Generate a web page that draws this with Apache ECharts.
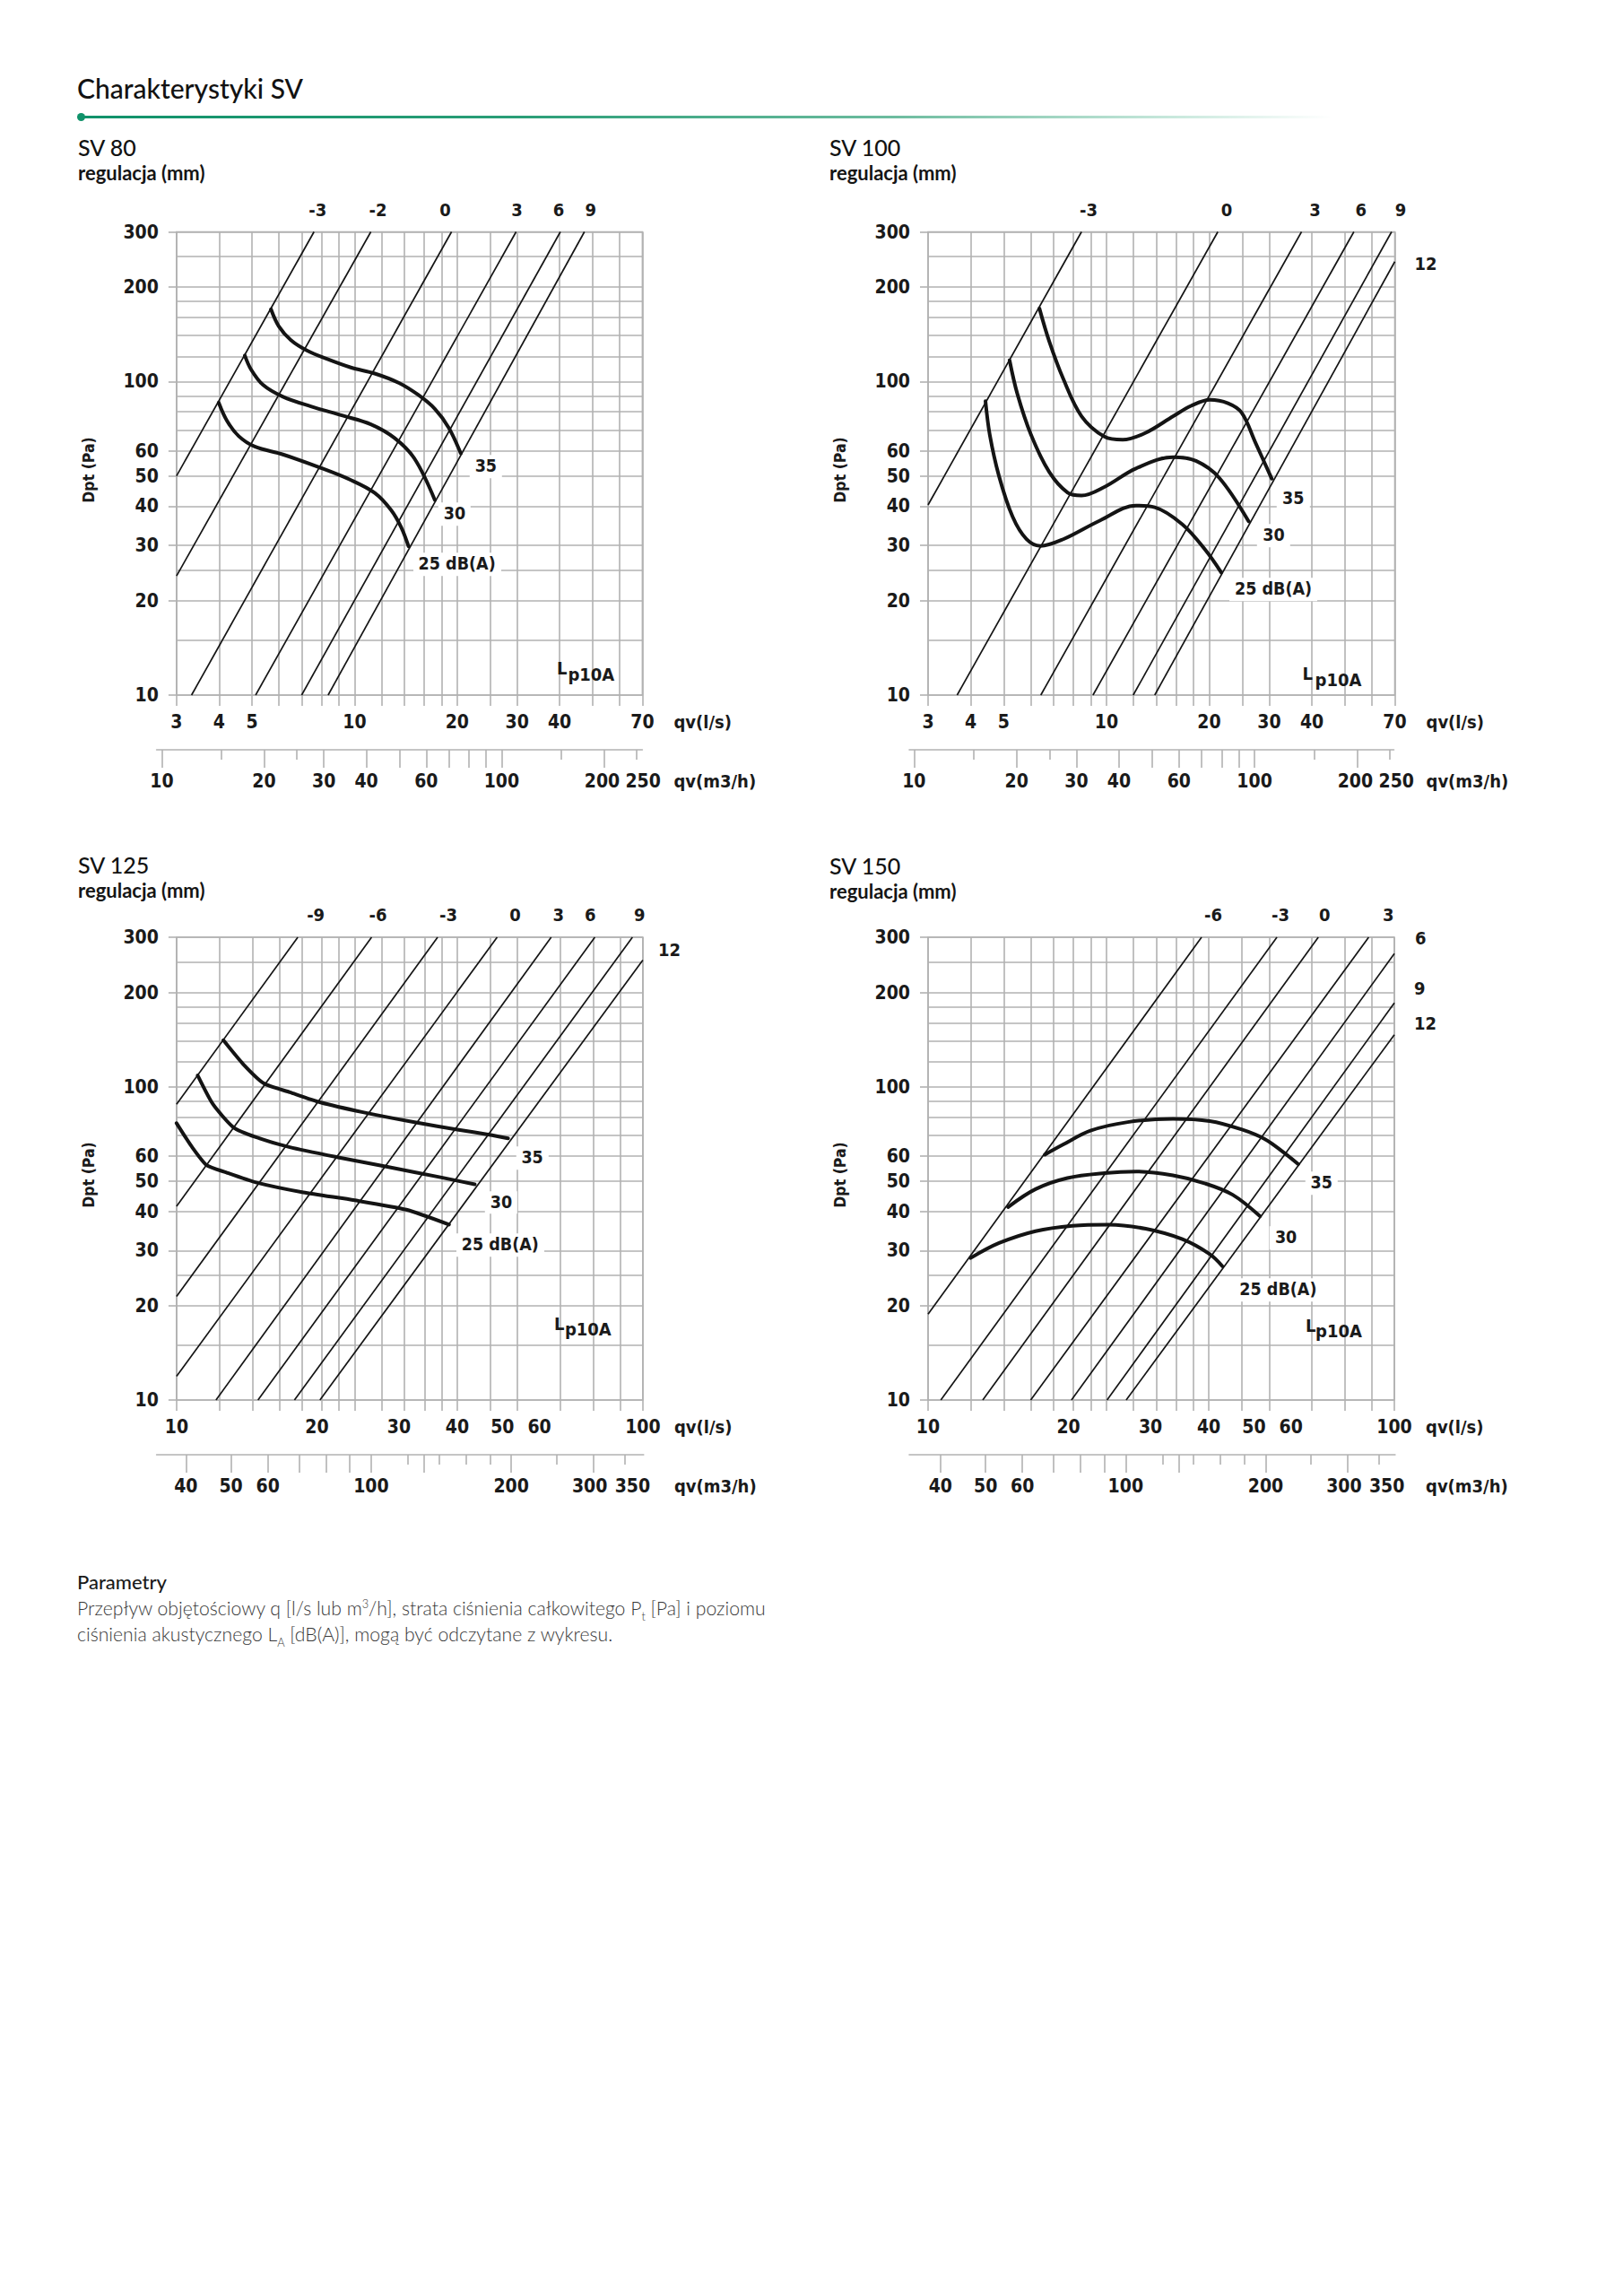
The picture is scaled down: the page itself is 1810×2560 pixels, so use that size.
<!DOCTYPE html>
<html lang="pl">
<head>
<meta charset="utf-8">
<title>Charakterystyki SV</title>
<script src="https://cdn.jsdelivr.net/npm/echarts@6/dist/echarts.min.js"></script>
<style>
html,body{margin:0;padding:0;background:#fff;}
#page{position:relative;width:1810px;height:2560px;overflow:hidden;background:#fff;}
#chart{position:absolute;left:0;top:0;width:1810px;height:1720px;z-index:1;}
.t{position:absolute;white-space:nowrap;line-height:1;z-index:2;color:#1a1a1a;}
.title{font-family:Lato,"Noto Sans",sans-serif;font-size:30px;font-weight:500;color:#121212;}
.head{font-family:Lato,"Noto Sans",sans-serif;font-size:25px;font-weight:500;color:#121212;}
.sub{font-family:Lato,"Noto Sans",sans-serif;font-size:22px;font-weight:700;color:#151515;}
.lab{font-family:"DejaVu Sans Condensed","DejaVu Sans",sans-serif;font-size:20px;font-weight:bold;}
.cl{font-size:19.5px;}
.dpt{font-size:17.5px;}
.bg{background:#fff;padding:3px 6px;}
.ph{font-family:Lato,"Noto Sans",sans-serif;font-size:22px;font-weight:500;color:#1a1a1a;}
.pt{font-family:Lato,"Noto Sans",sans-serif;font-size:21.2px;font-weight:300;color:#383838;}
.pt sup,.pt sub{font-size:60%;line-height:0;}
.rule{position:absolute;left:90px;top:128.5px;width:1395px;height:3px;z-index:2;
 background:linear-gradient(90deg,#10926a 0%,#2a9e77 35%,#6dbc9f 65%,rgba(190,228,214,0.8) 88%,rgba(255,255,255,0) 100%);}
.dot{position:absolute;left:86px;top:125.5px;width:9px;height:9px;border-radius:50%;background:#10926a;z-index:3;}
</style>
</head>
<body>
<div id="page">
  <div id="chart"></div>
  <div class="rule"></div>
  <div class="dot"></div>
</div>
<script>
// ---------------- axis grids / ticks (values) ----------------
const Q_GRID_A   = [3,4,5,6,7,8,9,10,12,14,16,18,20,25,30,40,50,60,70];
const Q_LABELS_A = [3,4,5,10,20,30,40,70];
const Q_GRID_B   = [10,12.34,14.53,16.6,18.57,20.48,22.32,24.12,27.56,30.84,34.0,37.06,40.03,47.1,53.86,66.45,78.25,89.4,100];
const Q_LABELS_B = [10,20,30,40,50,60,100];
const DP_GRID    = [10,15,20,25,30,40,50,60,70,80,90,100,120,140,160,180,200,250,300];
const DP_LABELS  = [10,20,30,40,50,60,100,200,300];
const M3H_LONG_A   = [10,20,30,40,50,60,70,80,90,100,200];
const M3H_SHORT_A  = [15,25,150,250];
const M3H_LABELS_A = [10,20,30,40,60,100,200,250];
const M3H_LONG_B   = [40,50,60,70,80,90,100,130,200,300];
const M3H_SHORT_B  = [120,140,160,180,250,350];
const M3H_LABELS_B = [40,50,60,100,200,300,350];
const CURVE_NAMES  = ['25 dB(A)','30','35'];

// ---------------- SV 80 ----------------
const SV80_SETTINGS = ['-3','-2','0','3','6','9'];
const SV80_LINES = [
  [[3,50],[7.6,300]], [[3,24],[11.16,300]], [[3.32,10],[19.26,300]],
  [[5.12,10],[29.8,300]], [[6.99,10],[40.2,300]], [[8.36,10],[47.3,300]]
];
const SV80_CURVE_35 = [[5.68,170],[5.99,149.9],[6.5,135.5],[7.24,125.6],[8.29,118],[9.75,110.8],[11.46,106],[13.5,98.9],[15.4,90.5],[17.2,81.8],[18.9,71.2],[20.5,59]];
const SV80_CURVE_30 = [[4.76,121],[4.96,109.4],[5.38,97.6],[6.16,89.4],[7.44,83.3],[9.23,77.8],[11.16,73],[13.1,66],[15.0,56.7],[17.2,41.9]];
const SV80_CURVE_25 = [[3.99,85.6],[4.22,74.9],[4.57,66.9],[5.09,62],[6.16,58.5],[7.85,53.3],[9.75,48.5],[11.46,44.1],[12.8,38.9],[13.7,34.3],[14.4,29.8]];

// ---------------- SV 100 ----------------
const SV100_SETTINGS = ['-3','0','3','6','9','12'];
const SV100_LINES = [
  [[3,40.4],[8.45,300]], [[3.65,10],[21.2,300]], [[6.42,10],[37.3,300]],
  [[9.13,10],[53.1,300]], [[11.98,10],[68.5,300]], [[13.85,10],[70,241]]
];
const SV100_CURVE_35 = [[6.36,171],[6.80,134],[7.47,102],[8.45,77.5],[9.86,66.7],[11.16,65.2],[13.0,68.5],[15.7,77.5],[17.7,83.6],[20.1,87.4],[22.7,85.2],[24.9,79.5],[27.3,64],[30.5,49]];
const SV100_CURVE_30 = [[5.2,116.8],[5.48,91.3],[6.01,67.6],[6.80,51.4],[7.70,44.2],[8.45,43.3],[9.86,46.1],[12.2,52.8],[15.7,57.4],[18.3,55.8],[21.4,49.3],[26.1,35.8]];
const SV100_CURVE_25 = [[4.42,86.5],[4.55,67.6],[4.84,50],[5.31,37],[5.83,31.4],[6.40,29.9],[7.47,31.4],[9.56,36],[12.2,40.2],[13.85,39.7],[16.7,35],[19.5,29],[21.7,24.6]];

// ---------------- SV 125 ----------------
const SV125_SETTINGS = ['-9','-6','-3','0','3','6','9','12'];
const SV125_LINES = [
  [[10,87.9],[18.2,300]], [[10,41.5],[26.2,300]], [[10,21.4],[36.3,300]], [[10,11.9],[48.7,300]],
  [[12.15,10],[63.6,300]], [[14.95,10],[78.9,300]], [[17.9,10],[95.0,300]], [[20.3,10],[100,253.7]]
];
const SV125_CURVE_35 = [[12.6,140.7],[13.9,118],[15.4,102.4],[17.5,96],[20.3,89.2],[25.1,82.9],[32.4,77],[40,73],[47.5,70],[51.4,68.4]];
const SV125_CURVE_30 = [[11.1,108.6],[11.97,87.9],[13.25,74.1],[14.8,69],[17.5,64.1],[22.1,59.6],[28.5,55.4],[36.8,51.4],[43.6,48.8]];
const SV125_CURVE_25 = [[10,76.5],[10.77,64.5],[11.6,56.2],[12.76,53.3],[14.8,49.5],[18.7,46],[24.1,43.4],[31.1,40.5],[38.4,36.3]];

// ---------------- SV 150 ----------------
const SV150_SETTINGS = ['-6','-3','0','3','6','9','12'];
const SV150_LINES = [
  [[10,18.8],[38.6,300]], [[10.65,10],[56.0,300]], [[13.1,10],[68.7,300]], [[16.6,10],[88.1,300]],
  [[20.3,10],[100,266]], [[24.2,10],[100,185]], [[26.6,10],[100,146.6]]
];
const SV150_CURVE_35 = [[17.8,60.7],[19.5,65.4],[22.3,72.4],[26.8,77.1],[33.5,79],[40.2,77.7],[47.1,73],[52.7,68.1],[57.7,61.9],[62.2,56.6]];
const SV150_CURVE_30 = [[14.85,41.3],[17.0,47.1],[19.9,51.1],[23.9,53],[28.0,53.6],[33.5,52.1],[39.3,49.1],[45,45.2],[51.5,38.6]];
const SV150_CURVE_25 = [[12.34,28.4],[14.2,31.7],[17.0,34.6],[20.4,36],[24.4,36.3],[29.3,35.2],[35.1,32.6],[40.2,29.2],[42.8,26.7]];

const CHARTS = [
  {title:'SV 80', qMin:3, qMax:70, qGrid:Q_GRID_A, qLabels:Q_LABELS_A, mLong:M3H_LONG_A, mShort:M3H_SHORT_A, mLabels:M3H_LABELS_A,
   settings:SV80_SETTINGS, lines:SV80_LINES, curves:[SV80_CURVE_25,SV80_CURVE_30,SV80_CURVE_35]},
  {title:'SV 100', qMin:3, qMax:70, qGrid:Q_GRID_A, qLabels:Q_LABELS_A, mLong:M3H_LONG_A, mShort:M3H_SHORT_A, mLabels:M3H_LABELS_A,
   settings:SV100_SETTINGS, lines:SV100_LINES, curves:[SV100_CURVE_25,SV100_CURVE_30,SV100_CURVE_35]},
  {title:'SV 125', qMin:10, qMax:100, qGrid:Q_GRID_B, qLabels:Q_LABELS_B, mLong:M3H_LONG_B, mShort:M3H_SHORT_B, mLabels:M3H_LABELS_B,
   settings:SV125_SETTINGS, lines:SV125_LINES, curves:[SV125_CURVE_25,SV125_CURVE_30,SV125_CURVE_35]},
  {title:'SV 150', qMin:10, qMax:100, qGrid:Q_GRID_B, qLabels:Q_LABELS_B, mLong:M3H_LONG_B, mShort:M3H_SHORT_B, mLabels:M3H_LABELS_B,
   settings:SV150_SETTINGS, lines:SV150_LINES, curves:[SV150_CURVE_25,SV150_CURVE_30,SV150_CURVE_35]}
];

// ---------------- layout (pixels) ----------------
const LAYOUT = [
  {left:196.9, top:258.5, width:519.5, height:516.5,
   m3h:{left:174.6, width:541.8, min:9.654, max:259.6, shifts:{200:-2, 250:7}},
   reg:[[4,-25,'c'],[8,-25,'c'],[-7,-25,'c'],[1,-25,'c'],[-2,-25,'c'],[7,-25,'c']],
   cur:[[11,20,'l'],[22,16,'c'],[28,15,'c']],
   L:[-95.4,-30], P:[-83,-23], head:[87,163.5], sub:[87,192.5], smooth:0.35},
  {left:1035, top:258.5, width:520.5, height:516.5,
   m3h:{left:1014, width:540.5, min:9.684, max:256.6, shifts:{200:-2, 250:7}},
   reg:[[8,-25,'c'],[10,-25,'c'],[15,-25,'c'],[8,-25,'c'],[10,-25,'c'],[22,2,'l']],
   cur:[[15,19,'l'],[28,16,'c'],[24,22,'c']],
   L:[-103,-24], P:[-89,-17], head:[925,163.5], sub:[925,192.5], smooth:0.35},
  {left:196.9, top:1045, width:520, height:516,
   m3h:{left:174.6, width:543.2, min:34.6, max:384.9, shifts:{300:-4, 350:9}},
   reg:[[20,-25,'c'],[7,-25,'c'],[12,-25,'c'],[20,-25,'c'],[8,-25,'c'],[-5,-25,'c'],[8,-25,'c'],[17,-11,'l']],
   cur:[[14,23,'l'],[29.5,20,'c'],[27,22,'c']],
   L:[-99,-85], P:[-87,-79], head:[87,963.5], sub:[87,993], smooth:0.2},
  {left:1035, top:1045, width:520, height:516,
   m3h:{left:1014, width:541.9, min:34.27, max:379.6, shifts:{300:-4, 350:9}},
   reg:[[13,-25,'c'],[4,-25,'c'],[7,-25,'c'],[22,-25,'c'],[23,-17,'l'],[22,-16.5,'l'],[22,-13,'l']],
   cur:[[19,26,'l'],[29,24,'c'],[26,21,'c']],
   L:[-99,-83], P:[-88,-77], head:[925,964.5], sub:[925,994], smooth:0.35}
];

const TXT = '#1a1a1a', GRIDC = '#b2b2b2', INK = '#141414';
const FONT = '"DejaVu Sans Condensed","DejaVu Sans",sans-serif';
const LBL = {color:TXT, fontFamily:FONT, fontWeight:'bold', fontSize:21};
function nudge(vals, min, max) {
  return vals.map(v => v <= min ? min * (1 + 1e-9) : (v >= max ? max * (1 - 1e-9) : v));
}
const fmt = v => String(Math.round(v));
const gridLine = {color:GRIDC, width:1.6};

const option = {animation:false, grid:[], xAxis:[], yAxis:[], series:[]};

CHARTS.forEach((c, i) => {
  const L = LAYOUT[i];
  option.grid[i] = {left:L.left, top:L.top, width:L.width, height:L.height, show:true,
    borderColor:GRIDC, borderWidth:1.6, backgroundColor:'transparent', containLabel:false, outerBoundsMode:'none'};
  option.grid[4 + i] = {left:L.m3h.left, top:L.top + L.height + 60, width:L.m3h.width, height:1, show:false,
    containLabel:false, outerBoundsMode:'none'};

  option.xAxis[i] = {type:'log', logBase:10, gridIndex:i, min:c.qMin, max:c.qMax, position:'bottom',
    axisLine:{show:false, onZero:false},
    axisTick:{show:true, length:12, inside:false, customValues:nudge(c.qGrid, c.qMin, c.qMax), lineStyle:gridLine},
    minorTick:{show:false}, minorSplitLine:{show:false},
    splitLine:{show:true, lineStyle:gridLine},
    axisLabel:Object.assign({show:true, customValues:nudge(c.qLabels, c.qMin, c.qMax), formatter:fmt, margin:19, hideOverlap:false}, LBL)};

  const shifts = L.m3h.shifts;
  const rich = {
    r:Object.assign({padding:[0,0,0,2 * Math.max(0, ...Object.values(shifts))]}, LBL),
    l:Object.assign({padding:[0,2 * Math.max(0, ...Object.values(shifts).map(s => -s)),0,0]}, LBL)
  };
  Object.keys(shifts).forEach(k => {
    const s = shifts[k];
    rich['s' + k] = Object.assign({padding: s >= 0 ? [0,0,0,2 * s] : [0,-2 * s,0,0]}, LBL);
  });
  option.xAxis[4 + 2 * i] = {type:'log', logBase:10, gridIndex:4 + i, min:L.m3h.min, max:L.m3h.max, position:'bottom',
    axisLine:{show:true, onZero:false, lineStyle:gridLine},
    axisTick:{show:true, length:20, customValues:c.mLong, lineStyle:gridLine},
    splitLine:{show:false}, minorTick:{show:false},
    axisLabel:Object.assign({show:true, customValues:c.mLabels, margin:24, hideOverlap:false,
      formatter:v => { const r = Math.round(v); return shifts[r] !== undefined ? '{s' + r + '|' + r + '}' : String(r); },
      rich:rich}, LBL)};
  option.xAxis[5 + 2 * i] = {type:'log', logBase:10, gridIndex:4 + i, min:L.m3h.min, max:L.m3h.max, position:'bottom',
    axisLine:{show:false, onZero:false},
    axisTick:{show:true, length:11, customValues:c.mShort, lineStyle:gridLine},
    splitLine:{show:false}, minorTick:{show:false}, axisLabel:{show:false}};

  option.yAxis[2 * i] = {type:'log', logBase:10, gridIndex:i, min:10, max:300, position:'left',
    axisLine:{show:false}, axisTick:{show:false, customValues:nudge(DP_GRID, 10, 300)},
    splitLine:{show:true, lineStyle:gridLine}, minorTick:{show:false}, minorSplitLine:{show:false},
    axisLabel:{show:false}};
  option.yAxis[2 * i + 1] = {type:'log', logBase:10, gridIndex:i, min:10, max:300, position:'left',
    axisLine:{show:false},
    axisTick:{show:true, length:9, customValues:nudge(DP_LABELS, 10, 300), lineStyle:gridLine},
    splitLine:{show:false}, minorTick:{show:false},
    axisLabel:Object.assign({show:true, customValues:nudge(DP_LABELS, 10, 300), formatter:fmt, margin:20, hideOverlap:false}, LBL)};
  option.yAxis[8 + i] = {type:'value', gridIndex:4 + i, min:0, max:1, show:false};

  c.lines.forEach((pts, k) => option.series.push({
    type:'line', name:c.title + ' ' + c.settings[k], xAxisIndex:i, yAxisIndex:2 * i, data:pts,
    symbol:'none', silent:true, z:3, lineStyle:{color:INK, width:1.7}}));
  c.curves.forEach((pts, k) => option.series.push({
    type:'line', name:c.title + ' ' + CURVE_NAMES[k], xAxisIndex:i, yAxisIndex:2 * i, data:pts,
    symbol:'none', silent:true, z:4, smooth:L.smooth, lineStyle:{color:INK, width:4, cap:'round', join:'round'}}));
});

const chart = echarts.init(document.getElementById('chart'), null, {renderer:'svg'});
chart.setOption(option);

// ---------------- text overlays ----------------
const page = document.getElementById('page');
function addText(html, x, y, align, cls) {
  const d = document.createElement('div');
  d.className = 't ' + cls;
  d.innerHTML = html;
  d.style.left = x + 'px';
  d.style.top = y + 'px';
  d.style.transform = align === 'c' ? 'translate(-50%,-50%)'
    : align === 'r' ? 'translate(-100%,-50%)'
    : align === 'rot' ? 'translate(-50%,-50%) rotate(-90deg)'
    : 'translate(0,-50%)';
  page.appendChild(d);
}

addText('Charakterystyki SV', 86, 98, 'l', 'title');

CHARTS.forEach((c, i) => {
  const L = LAYOUT[i];
  const toPx = p => chart.convertToPixel({xAxisIndex:i, yAxisIndex:2 * i}, p);
  c.lines.forEach((pts, k) => {
    const e = toPx(pts[pts.length - 1]);
    const r = L.reg[k];
    addText(c.settings[k], e[0] + r[0], e[1] + r[1], r[2], 'lab');
  });
  c.curves.forEach((pts, k) => {
    const e = toPx(pts[pts.length - 1]);
    const r = L.cur[k];
    addText(CURVE_NAMES[k], e[0] + r[0] - (r[2] === 'l' ? 6 : 0), e[1] + r[1], r[2], 'lab cl bg');
  });
  const right = L.left + L.width, bottom = L.top + L.height;
  addText('L', right + L.L[0], bottom + L.L[1], 'l', 'lab');
  addText('p10A', right + L.P[0], bottom + L.P[1], 'l', 'lab');
  addText('Dpt (Pa)', L.left - 97, L.top + L.height / 2 + 7, 'rot', 'lab dpt');
  addText('qv(l/s)', right + 35, bottom + 30, 'l', 'lab');
  addText('qv(m3/h)', right + 35, bottom + 96, 'l', 'lab');
  addText(c.title, L.head[0], L.head[1], 'l', 'head');
  addText('regulacja (mm)', L.sub[0], L.sub[1], 'l', 'sub');
});

addText('Parametry', 86, 1764, 'l', 'ph');
addText('Przepływ objętościowy q [l/s lub m<sup>3</sup>/h], strata ciśnienia całkowitego P<sub>t</sub> [Pa] i poziomu', 86, 1794, 'l', 'pt');
addText('ciśnienia akustycznego L<sub>A</sub> [dB(A)], mogą być odczytane z wykresu.', 86, 1823, 'l', 'pt');
</script>
</body>
</html>
